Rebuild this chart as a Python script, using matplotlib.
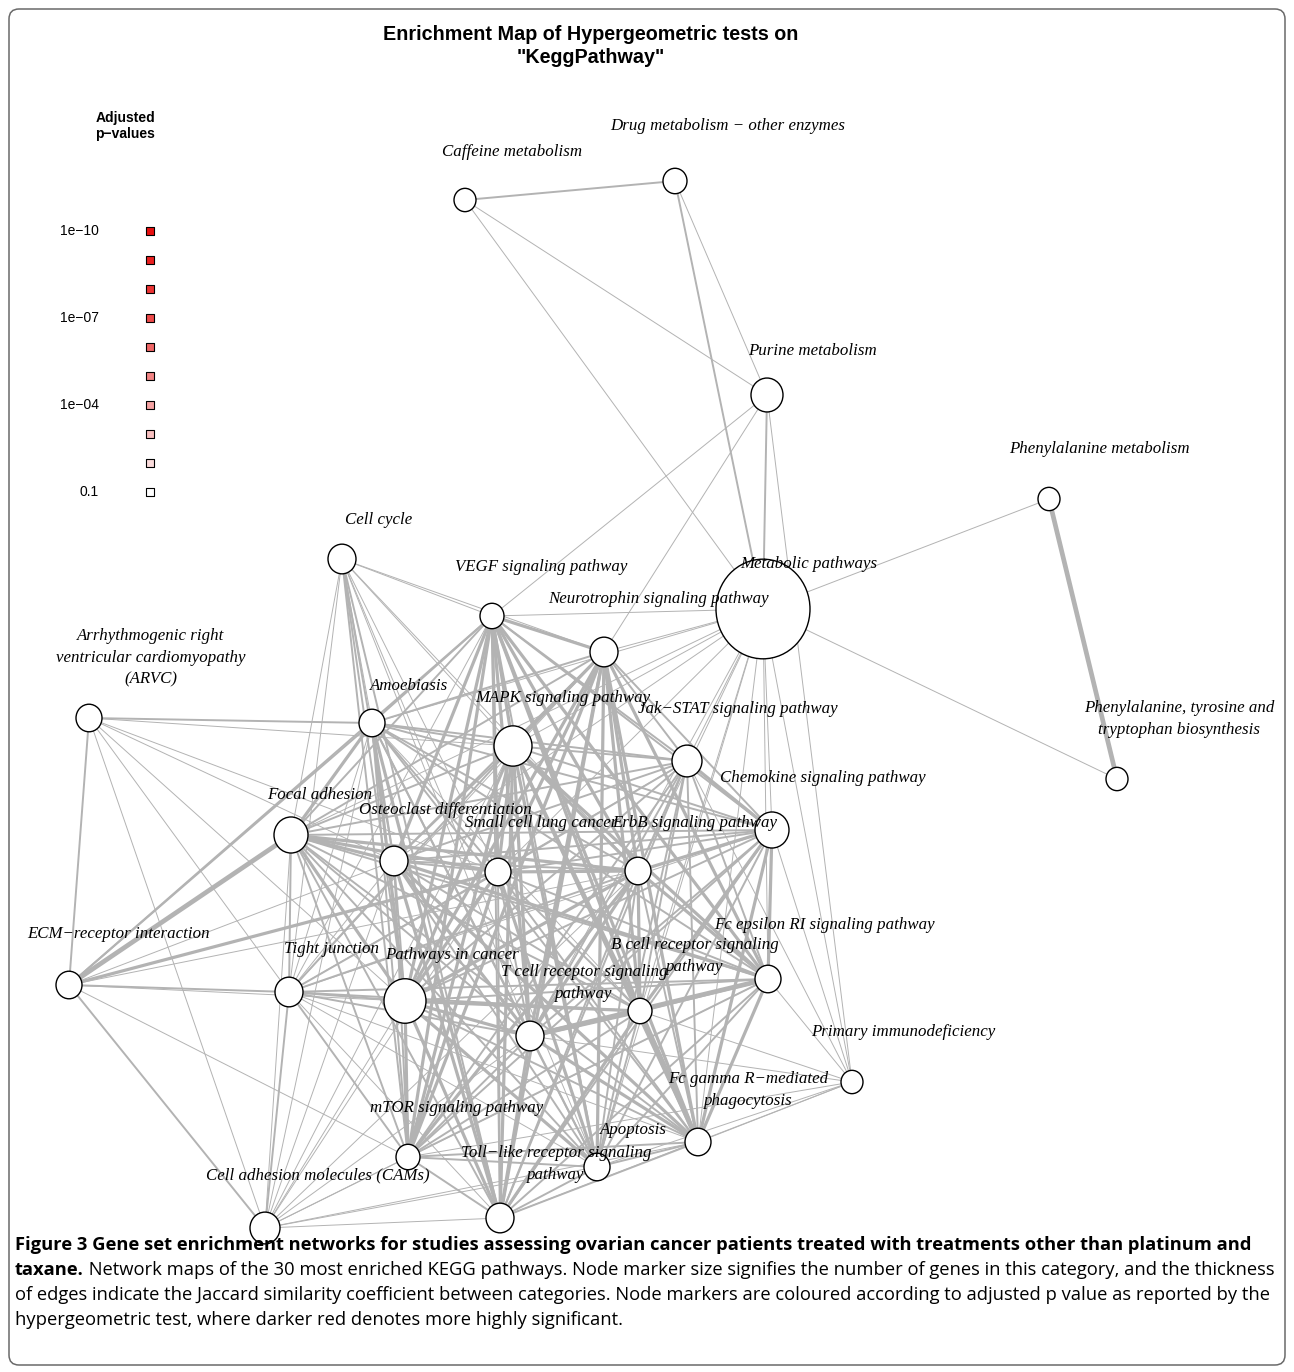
import matplotlib.pyplot as plt
from matplotlib.patches import Ellipse, FancyBboxPatch
from matplotlib.collections import LineCollection

node_keys = ["caf", "drug", "pur", "phe", "phetyr", "met", "cc", "vegf", "neuro",
             "arvc", "amoe", "mapk", "jak", "chemo", "focal", "osteo", "sclc",
             "erbb", "ecm", "tight", "pic", "tcr", "bcr", "fceps", "pid", "fcg",
             "mtor", "apop", "toll", "cams"]
node_labels = ["Caffeine metabolism", "Drug metabolism \u2212 other enzymes",
               "Purine metabolism", "Phenylalanine metabolism",
               "Phenylalanine, tyrosine and\ntryptophan biosynthesis",
               "Metabolic pathways", "Cell cycle", "VEGF signaling pathway",
               "Neurotrophin signaling pathway",
               "Arrhythmogenic right\nventricular cardiomyopathy\n(ARVC)",
               "Amoebiasis", "MAPK signaling pathway", "Jak\u2212STAT signaling pathway",
               "Chemokine signaling pathway", "Focal adhesion",
               "Osteoclast differentiation", "Small cell lung cancer",
               "ErbB signaling pathway", "ECM\u2212receptor interaction",
               "Tight junction", "Pathways in cancer",
               "T cell receptor signaling\npathway", "B cell receptor signaling\npathway",
               "Fc epsilon RI signaling pathway", "Primary immunodeficiency",
               "Fc gamma R\u2212mediated\nphagocytosis", "mTOR signaling pathway",
               "Apoptosis", "Toll\u2212like receptor signaling\npathway",
               "Cell adhesion molecules (CAMs)"]
node_x = [465, 675, 767, 1049, 1117, 763, 342, 492, 604, 89, 372, 513, 687, 772,
          291, 394, 498, 638, 69, 289, 405, 530, 640, 768, 852, 698, 408, 597, 500, 265]
node_y = [200, 181, 395, 499, 779, 609, 559, 616, 652, 718, 723, 746, 761, 830,
          835, 861, 872, 871, 985, 992, 1001, 1036, 1011, 979, 1082, 1142, 1157,
          1167, 1218, 1228]
node_size = [11, 12, 16, 11, 11, 47, 14, 12, 14, 13, 13, 19, 15, 17, 17, 14, 13,
             13, 13, 14, 21, 14, 12, 13, 11, 13, 12, 13, 14, 15]
node_pval = [0.1] * 30

label_x = [512, 728, 812, 1099, 1179, 809, 379, 541, 658, 151, 409, 563, 738, 823,
           320, 445, 541, 695, 119, 331, 452, 584, 695, 824, 903, 748, 457, 633, 556, 318]
label_y = [152, 126, 351, 449, 719, 564, 520, 567, 599, 658, 686, 698, 709, 778,
           795, 810, 823, 823, 934, 949, 955, 983, 956, 925, 1032, 1090, 1108,
           1130, 1164, 1175]

# edges: (node, node, jaccard class 1..4)
edges = [
    ("caf", "drug", 2), ("caf", "pur", 1), ("caf", "met", 1), ("drug", "met", 2),
    ("drug", "pur", 1), ("pur", "met", 2), ("pur", "vegf", 1), ("pur", "neuro", 1),
    ("pur", "pid", 1), ("met", "phe", 1), ("met", "phetyr", 1), ("phe", "phetyr", 4),
    ("met", "vegf", 1), ("met", "neuro", 1), ("met", "amoe", 1), ("met", "mapk", 1),
    ("met", "jak", 1), ("met", "chemo", 1), ("met", "erbb", 1), ("met", "sclc", 1),
    ("met", "fceps", 1), ("met", "pid", 1), ("met", "fcg", 1), ("met", "bcr", 1),
    ("met", "tcr", 1), ("met", "focal", 1), ("met", "osteo", 1), ("met", "apop", 1),
    ("cc", "vegf", 1), ("cc", "neuro", 1), ("cc", "focal", 1), ("cc", "tight", 1),
    ("cc", "osteo", 2), ("cc", "pic", 2), ("cc", "mtor", 2), ("cc", "toll", 2),
    ("cc", "sclc", 1), ("cc", "erbb", 1), ("cc", "mapk", 1), ("cc", "tcr", 1),
    ("cc", "apop", 1), ("cc", "amoe", 1),
    ("vegf", "mapk", 3), ("vegf", "neuro", 3), ("vegf", "sclc", 3), ("vegf", "erbb", 3),
    ("vegf", "focal", 2), ("vegf", "amoe", 2), ("vegf", "osteo", 3), ("vegf", "pic", 3),
    ("vegf", "tcr", 3), ("vegf", "bcr", 3), ("vegf", "fceps", 3), ("vegf", "fcg", 3),
    ("vegf", "mtor", 3), ("vegf", "apop", 2), ("vegf", "toll", 2), ("vegf", "chemo", 2),
    ("vegf", "jak", 2), ("vegf", "tight", 1), ("vegf", "ecm", 2),
    ("neuro", "mapk", 3), ("neuro", "amoe", 2), ("neuro", "focal", 2), ("neuro", "osteo", 2),
    ("neuro", "sclc", 3), ("neuro", "erbb", 3), ("neuro", "jak", 2), ("neuro", "chemo", 2),
    ("neuro", "pic", 3), ("neuro", "tcr", 3), ("neuro", "bcr", 3), ("neuro", "fceps", 3),
    ("neuro", "fcg", 3), ("neuro", "mtor", 3), ("neuro", "apop", 3), ("neuro", "toll", 3),
    ("neuro", "tight", 1),
    ("amoe", "focal", 3), ("amoe", "osteo", 2), ("amoe", "mapk", 2), ("amoe", "jak", 2),
    ("amoe", "chemo", 2), ("amoe", "sclc", 2), ("amoe", "erbb", 2), ("amoe", "pic", 3),
    ("amoe", "tight", 1), ("amoe", "tcr", 2), ("amoe", "bcr", 1), ("amoe", "fceps", 2),
    ("amoe", "fcg", 2), ("amoe", "mtor", 2), ("amoe", "toll", 3), ("amoe", "cams", 1),
    ("amoe", "apop", 2), ("amoe", "ecm", 2), ("amoe", "arvc", 2),
    ("mapk", "focal", 2), ("mapk", "osteo", 2), ("mapk", "sclc", 3), ("mapk", "erbb", 3),
    ("mapk", "jak", 2), ("mapk", "chemo", 2), ("mapk", "pic", 3), ("mapk", "tcr", 3),
    ("mapk", "bcr", 3), ("mapk", "fceps", 3), ("mapk", "fcg", 3), ("mapk", "mtor", 3),
    ("mapk", "apop", 3), ("mapk", "toll", 3), ("mapk", "tight", 2), ("mapk", "cams", 1),
    ("mapk", "arvc", 1),
    ("jak", "chemo", 3), ("jak", "focal", 2), ("jak", "osteo", 2), ("jak", "sclc", 2),
    ("jak", "erbb", 2), ("jak", "pic", 2), ("jak", "tcr", 2), ("jak", "bcr", 2),
    ("jak", "fceps", 2), ("jak", "fcg", 2), ("jak", "mtor", 2), ("jak", "apop", 2),
    ("jak", "toll", 2), ("jak", "pid", 1), ("jak", "tight", 1),
    ("chemo", "focal", 2), ("chemo", "osteo", 2), ("chemo", "sclc", 2), ("chemo", "erbb", 3),
    ("chemo", "pic", 2), ("chemo", "tcr", 2), ("chemo", "bcr", 3), ("chemo", "fceps", 3),
    ("chemo", "fcg", 3), ("chemo", "mtor", 2), ("chemo", "apop", 2), ("chemo", "toll", 2),
    ("chemo", "pid", 1), ("chemo", "tight", 1),
    ("focal", "osteo", 3), ("focal", "sclc", 3), ("focal", "erbb", 3), ("focal", "ecm", 4),
    ("focal", "tight", 2), ("focal", "pic", 3), ("focal", "tcr", 2), ("focal", "bcr", 2),
    ("focal", "fceps", 2), ("focal", "fcg", 2), ("focal", "mtor", 2), ("focal", "apop", 2),
    ("focal", "toll", 2), ("focal", "cams", 1),
    ("osteo", "sclc", 2), ("osteo", "erbb", 2), ("osteo", "pic", 2), ("osteo", "tcr", 3),
    ("osteo", "bcr", 2), ("osteo", "fceps", 3), ("osteo", "fcg", 3), ("osteo", "mtor", 2),
    ("osteo", "apop", 2), ("osteo", "toll", 3), ("osteo", "tight", 1), ("osteo", "arvc", 1),
    ("osteo", "ecm", 1), ("osteo", "cams", 1),
    ("sclc", "erbb", 3), ("sclc", "pic", 3), ("sclc", "tcr", 2), ("sclc", "bcr", 2),
    ("sclc", "fceps", 2), ("sclc", "fcg", 2), ("sclc", "mtor", 3), ("sclc", "apop", 3),
    ("sclc", "toll", 2), ("sclc", "tight", 2), ("sclc", "ecm", 3), ("sclc", "arvc", 1),
    ("sclc", "cams", 1),
    ("erbb", "pic", 3), ("erbb", "tcr", 3), ("erbb", "bcr", 3), ("erbb", "fceps", 3),
    ("erbb", "fcg", 2), ("erbb", "mtor", 3), ("erbb", "apop", 2), ("erbb", "toll", 2),
    ("erbb", "tight", 2), ("erbb", "ecm", 1), ("erbb", "cams", 1),
    ("ecm", "tight", 2), ("ecm", "cams", 2), ("ecm", "mtor", 1), ("ecm", "pic", 1),
    ("ecm", "arvc", 2),
    ("tight", "pic", 2), ("tight", "tcr", 2), ("tight", "bcr", 2), ("tight", "fceps", 2),
    ("tight", "mtor", 2), ("tight", "cams", 2), ("tight", "toll", 1), ("tight", "apop", 1),
    ("tight", "fcg", 1), ("tight", "arvc", 1),
    ("pic", "tcr", 3), ("pic", "bcr", 3), ("pic", "fceps", 2), ("pic", "fcg", 2),
    ("pic", "mtor", 3), ("pic", "apop", 3), ("pic", "toll", 3), ("pic", "cams", 1),
    ("pic", "arvc", 1),
    ("tcr", "bcr", 4), ("tcr", "fceps", 4), ("tcr", "fcg", 3), ("tcr", "mtor", 2),
    ("tcr", "apop", 2), ("tcr", "toll", 3), ("tcr", "pid", 1), ("tcr", "cams", 1),
    ("bcr", "fceps", 3), ("bcr", "fcg", 4), ("bcr", "mtor", 2), ("bcr", "apop", 2),
    ("bcr", "toll", 3), ("bcr", "pid", 1),
    ("fceps", "fcg", 3), ("fceps", "pid", 1), ("fceps", "mtor", 2), ("fceps", "apop", 2),
    ("fceps", "toll", 2), ("fceps", "cams", 1),
    ("pid", "fcg", 1), ("pid", "apop", 1), ("pid", "toll", 1), ("pid", "mtor", 1),
    ("fcg", "mtor", 2), ("fcg", "apop", 2), ("fcg", "toll", 2), ("fcg", "cams", 1),
    ("mtor", "apop", 2), ("mtor", "toll", 2), ("mtor", "cams", 1),
    ("apop", "toll", 2), ("apop", "cams", 1), ("toll", "cams", 1), ("cams", "arvc", 1),
]

legend_pvals = [1e-10, 1e-9, 1e-8, 1e-7, 1e-6, 1e-5, 1e-4, 1e-3, 1e-2, 1e-1]
legend_colors = ["#e81010", "#ea2020", "#ec3434", "#ee4a4a", "#f06666", "#f28484",
                 "#f5a2a2", "#f8c0c0", "#fbdcdc", "#ffffff"]
legend_ticks = {0: "1e\u221210", 3: "1e\u221207", 6: "1e\u221204", 9: "0.1"}

caption_l1 = ("Figure 3 Gene set enrichment networks for studies assessing ovarian cancer "
              "patients treated with treatments other than platinum and")
caption_bold = "taxane."
caption_rest = (" Network maps of the 30 most enriched KEGG pathways. Node marker size "
                "signifies the number of genes in this category, and the thickness")
caption_l3 = ("of edges indicate the Jaccard similarity coefficient between categories. "
              "Node markers are coloured according to adjusted p value as reported by the")
caption_l4 = "hypergeometric test, where darker red denotes more highly significant."

W, H = 1294, 1372
fig = plt.figure(figsize=(W / 100, H / 100), dpi=100)
ax = fig.add_axes([0, 0, 1, 1])
ax.set_xlim(0, W)
ax.set_ylim(H, 0)
ax.axis("off")

# frame around figure
frame = FancyBboxPatch((9, 9), W - 18, H - 16, boxstyle="round,pad=0,rounding_size=10",
                       fc="none", ec="#6a6a6a", lw=1.1, zorder=0)
ax.add_patch(frame)

idx = {k: i for i, k in enumerate(node_keys)}
width_map = {1: 0.7, 2: 1.4, 3: 2.3, 4: 3.4}
segs = [[(node_x[idx[a]], node_y[idx[a]]), (node_x[idx[b]], node_y[idx[b]])] for a, b, w in edges]
lws = [width_map[w] for a, b, w in edges]
ax.add_collection(LineCollection(segs, colors="#b3b3b3", linewidths=lws, zorder=1))

pcol = dict(zip(legend_pvals, legend_colors))
for i in range(len(node_keys)):
    r = node_size[i]
    ax.add_patch(Ellipse((node_x[i], node_y[i]), 2 * r, 2.12 * r,
                         fc=pcol[node_pval[i]], ec="black", lw=1.0, zorder=2))

for i in range(len(node_keys)):
    ax.text(label_x[i], label_y[i], node_labels[i], ha="center", va="center",
            family="Liberation Serif", style="italic", fontsize=12.2,
            linespacing=1.48, zorder=3)

ax.text(591, 46, "Enrichment Map of Hypergeometric tests on\n\"KeggPathway\"",
        ha="center", va="center", family="Liberation Sans", weight="bold",
        fontsize=14.2, linespacing=1.22)

ax.text(155, 126, "Adjusted\np\u2212values", ha="right", va="center",
        family="Liberation Sans", weight="bold", fontsize=10, linespacing=1.1)
leg_y = [231, 260, 289, 318, 347, 376, 405, 434, 463, 492]
for j, c in enumerate(legend_colors):
    ax.scatter([150], [leg_y[j]], marker="s", s=30, c=c, edgecolors="black",
               linewidths=0.8, zorder=3)
    if j in legend_ticks:
        ax.text(99, leg_y[j], legend_ticks[j], ha="right", va="center",
                family="Liberation Sans", fontsize=10)

cap_font = dict(family="Open Sans", fontsize=13.2, va="baseline")
ax.text(15, 1250, caption_l1, weight="bold", **cap_font)
t = ax.text(15, 1275, caption_bold, weight="bold", **cap_font)
fig.canvas.draw()
bb = t.get_window_extent()
x_end = ax.transData.inverted().transform((bb.x1, bb.y0))[0]
ax.text(x_end, 1275, caption_rest, **cap_font)
ax.text(15, 1300, caption_l3, **cap_font)
ax.text(15, 1325, caption_l4, **cap_font)

fig.savefig("out.png", dpi=100)
